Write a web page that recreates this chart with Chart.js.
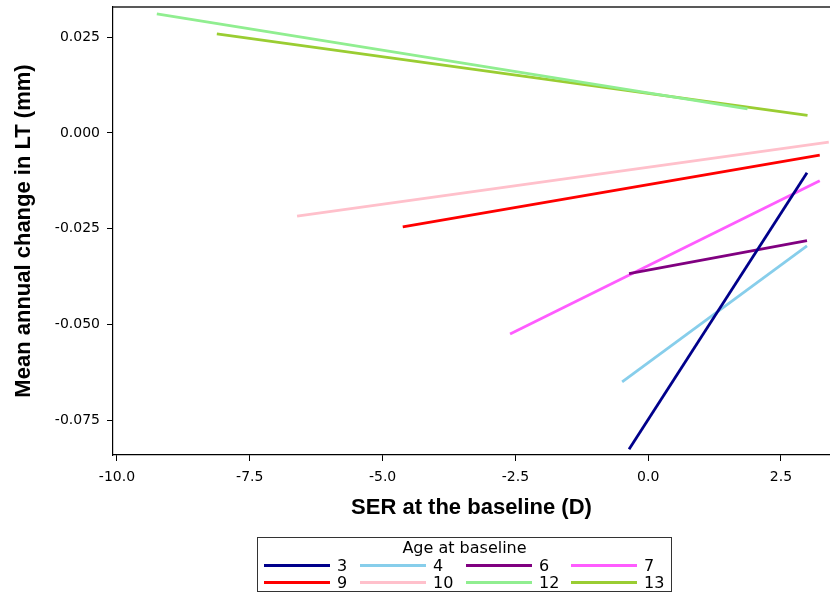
<!DOCTYPE html>
<html>
<head>
<meta charset="utf-8">
<script src="https://cdn.jsdelivr.net/npm/chart.js@4/dist/chart.umd.min.js"></script>
<style>
  body { margin: 0; background: #fff; }
  #wrap { position: relative; width: 830px; height: 595px; }
  #legend {
    position: absolute; left: 257px; top: 537px; width: 413px; height: 53px;
    border: 1.5px solid #333; font-family: "DejaVu Sans", sans-serif; font-size: 16px; color: #000;
  }
  #legend .ttl { position: absolute; left: 0; right: 0; top: 1px; text-align: center; line-height: 18px; }
  #legend .item { position: absolute; height: 18px; line-height: 18px; }
  #legend .sw { position: absolute; left: 0; top: 7px; width: 66px; height: 3px; }
  #legend .lb { position: absolute; left: 73px; top: 0; }
</style>
</head>
<body>
<div id="wrap">
  <canvas id="chart" width="830" height="595"></canvas>
  <div id="legend"><div class="ttl">Age at baseline</div></div>
</div>
<script>
// age groups and fitted line end points (SER in D, change in mm)
const ages = ['3', '4', '6', '7', '9', '10', '12', '13']
const serStart = [-0.36, -0.49, -0.36, -2.60, -4.62, -6.61, -9.25, -8.12]
const serEnd = [2.99, 2.99, 2.99, 3.23, 3.23, 3.40, 1.87, 3.00]
const ltStart = [-0.0826, -0.0650, -0.0367, -0.0525, -0.0245, -0.0217, 0.0311, 0.0259]
const ltEnd = [-0.0104, -0.0295, -0.0281, -0.0125, -0.0058, -0.0024, 0.0063, 0.0046]
const xTicks = [-10, -7.5, -5, -2.5, 0, 2.5]
const yTicks = [0.025, 0, -0.025, -0.05, -0.075]

const colors = ['#00008b', '#87ceeb', '#800080', '#ff5cff', '#ff0000', '#ffc0cb', '#90ee90', '#9acd32']

const datasets = ages.map((a, i) => ({
  label: a,
  data: [{x: serStart[i], y: ltStart[i]}, {x: serEnd[i], y: ltEnd[i]}],
  borderColor: colors[i],
  backgroundColor: colors[i],
  borderWidth: 2.8,
  pointRadius: 0,
  fill: false
}))

const topBorder = {
  id: 'topBorder',
  afterDraw(chart) {
    const {ctx, chartArea} = chart
    ctx.save()
    ctx.strokeStyle = '#222'
    ctx.lineWidth = 1.6
    ctx.beginPath()
    ctx.moveTo(chartArea.left, chartArea.top)
    ctx.lineTo(chartArea.right, chartArea.top)
    ctx.stroke()
    ctx.restore()
  }
}

const tickFont = {family: '"DejaVu Sans", sans-serif', size: 14}
const titleFont = {family: '"Liberation Sans", Arial, sans-serif', size: 22, weight: 'bold'}

new Chart(document.getElementById('chart'), {
  type: 'line',
  data: {datasets: datasets},
  plugins: [topBorder],
  options: {
    responsive: false,
    animation: false,
    layout: {padding: {top: 7, right: 0, left: 0, bottom: 0}},
    plugins: {legend: {display: false}, tooltip: {enabled: false}},
    scales: {
      x: {
        type: 'linear',
        min: -10.075,
        max: 3.423,
        afterBuildTicks: s => { s.ticks = xTicks.map(v => ({value: v})) },
        afterFit: s => { s.height = 140; s.paddingLeft = 0; s.paddingRight = 0 },
        ticks: {color: '#000', font: tickFont, padding: 8, callback: v => v.toFixed(1)},
        grid: {drawOnChartArea: false, color: '#000', tickLength: 6},
        border: {display: true, color: '#000', width: 1.2},
        title: {display: true, text: 'SER at the baseline (D)', color: '#000', font: titleFont, padding: {top: 0, bottom: 74}}
      },
      y: {
        min: -0.0841,
        max: 0.0329,
        afterBuildTicks: s => { s.ticks = yTicks.map(v => ({value: v})) },
        afterFit: s => { s.width = 113; s.paddingTop = 0; s.paddingBottom = 0 },
        ticks: {color: '#000', font: tickFont, padding: 7, callback: v => v.toFixed(3)},
        grid: {drawOnChartArea: false, color: '#000', tickLength: 6},
        border: {display: true, color: '#000', width: 1.2},
        title: {display: true, text: 'Mean annual change in LT (mm)', color: '#000', font: titleFont, padding: {top: 11, bottom: 0}}
      }
    }
  }
})

// legend laid out in two rows of four
const legend = document.getElementById('legend')
const colLeft = [6, 102, 208, 313]
ages.forEach((a, i) => {
  const item = document.createElement('div')
  item.className = 'item'
  item.style.left = colLeft[i % 4] + 'px'
  item.style.top = (i < 4 ? 19 : 36) + 'px'
  item.innerHTML = '<div class="sw" style="background:' + colors[i] + '"></div><div class="lb">' + a + '</div>'
  legend.appendChild(item)
})
</script>
</body>
</html>
